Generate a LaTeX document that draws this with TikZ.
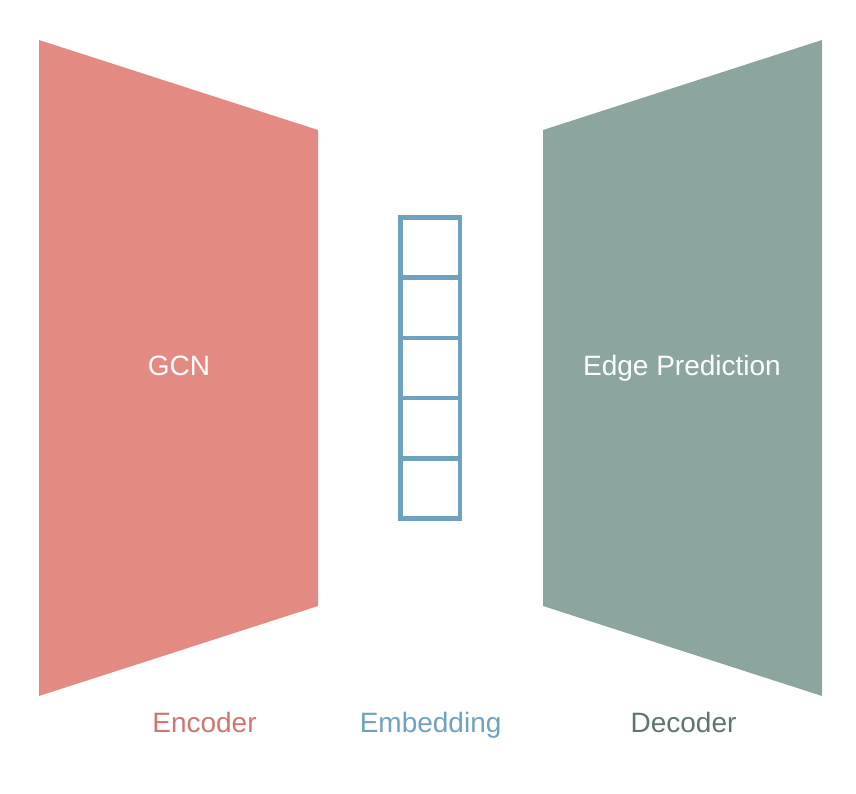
\documentclass[tikz,border=0pt]{standalone}
\usepackage{fontspec}
\setmainfont{Liberation Sans}
\usepackage{xcolor}
\definecolor{encfill}{RGB}{227,138,130}
\definecolor{decfill}{RGB}{140,165,158}
\definecolor{embcor}{RGB}{111,162,191}
\definecolor{enctxt}{RGB}{207,118,112}
\definecolor{dectxt}{RGB}{96,118,108}
\tikzset{
    rotulo/.style={anchor=base, inner sep=0pt, font=\fontsize{23.9}{28}\selectfont},
    celula/.style={draw=embcor, line width=4pt}
}

\begin{document}
\begin{tikzpicture}[x=0.03cm, y=-0.03cm]
    \useasboundingbox (0, 0) rectangle (856, 794);

    % Encoder
    \fill[encfill] (39, 40) -- (318, 130) -- (318, 606) -- (39, 696) -- cycle;
    \node[rotulo, white] (gcn) at (179, 375.5) {GCN};

    % Decoder
    \fill[decfill] (543, 130) -- (822, 40) -- (822, 696) -- (543, 606) -- cycle;
    \node[rotulo, white] (edge) at (682, 375.5) {Edge Prediction};

    % Embedding
    \foreach \i in {0, 1, 2, 3, 4}
        \draw[celula] (400.3, 217.5 + 60.2*\i) rectangle (460, 277.7 + 60.2*\i);

    % Legendas
    \node[rotulo, enctxt] (encoder) at (204.5, 732.3) {Encoder};
    \node[rotulo, embcor] (embedding) at (430.6, 732.3) {Embedding};
    \node[rotulo, dectxt] (decoder) at (683.5, 732.3) {Decoder};
\end{tikzpicture}
\end{document}
